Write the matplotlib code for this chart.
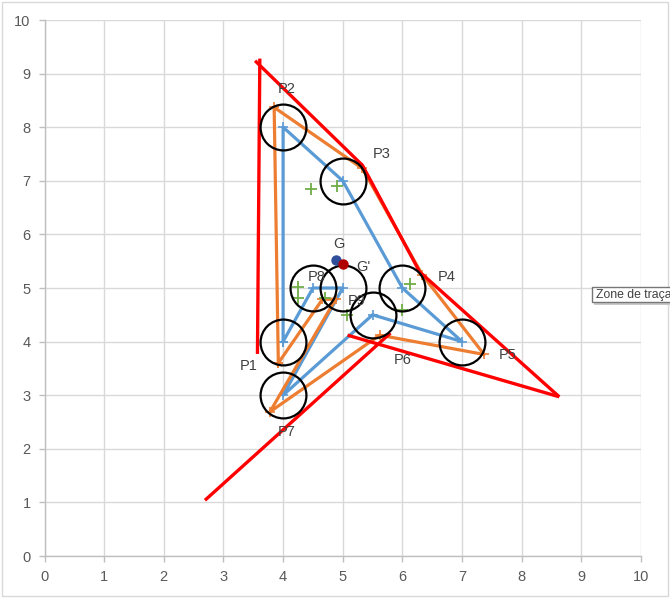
import matplotlib
matplotlib.use("Agg")
import matplotlib.pyplot as plt
from matplotlib.patches import Rectangle

# ---- data ----
p_names = ["P1", "P2", "P3", "P4", "P5", "P6", "P7", "P8", "P9"]
p_x = [4, 4, 5, 6, 7, 5.5, 4, 4.5, 5]
p_y = [4, 8, 7, 5, 4, 4.5, 3, 5, 5]
path_order = [0, 1, 2, 3, 4, 5, 6, 8, 7, 0]

o_x = [3.92, 3.85, 5.33, 6.33, 7.37, 5.62, 3.78, 4.66, 4.88]
o_y = [3.60, 8.37, 7.23, 5.25, 3.76, 4.12, 2.69, 4.79, 4.79]

green_x = [4.47, 4.90, 4.25, 4.25, 4.70, 5.07, 6.13, 6.00]
green_y = [6.85, 6.91, 5.01, 4.81, 4.81, 4.50, 5.07, 4.59]

red_lines = [
    ([3.57, 3.61], [3.77, 9.28]),
    ([3.53, 5.33, 6.29, 8.63], [9.24, 7.29, 5.30, 2.97]),
    ([8.63, 5.08], [2.97, 4.12]),
    ([2.69, 5.80], [1.04, 4.16]),
]

g_x, g_y = [4.88], [5.53]
g2_x, g2_y = [5.00], [5.45]

x_ticks = list(range(0, 11))
y_ticks = list(range(0, 11))

# label offsets (pixels, y up)
p_label_off = [(-34, -24), (4, 38), (39, 27), (44, 11), (46, -13),
               (30, -45), (4, -37), (4, 11), (14, -13)]

# ---- figure ----
fig = plt.figure(figsize=(6.7, 5.99), dpi=100)
ax = fig.add_axes([44.5 / 670, 43 / 599, (641 - 44.5) / 670, (556 - 20) / 599])

blue = "#5B9BD5"
orange = "#ED7D31"
green = "#70AD47"

ax.set_xlim(0, 10)
ax.set_ylim(0, 10)
ax.set_xticks(x_ticks)
ax.set_yticks(y_ticks)
ax.grid(True, color="#D9D9D9", lw=1)
ax.set_axisbelow(True)
for s in ["top", "right"]:
    ax.spines[s].set_visible(False)
for s in ["left", "bottom"]:
    ax.spines[s].set_color("#BFBFBF")
    ax.spines[s].set_linewidth(1)
ax.tick_params(colors="#BFBFBF", labelcolor="#595959", labelsize=10.5,
               length=4, width=1, pad=6)
for lbl in ax.get_xticklabels() + ax.get_yticklabels():
    lbl.set_fontfamily("Liberation Sans")

# blue path
bx = [p_x[i] for i in path_order]
by = [p_y[i] for i in path_order]
ax.plot(bx, by, color=blue, lw=2.3, marker="+", ms=7, mew=1.2, zorder=3)

# orange path
ox = [o_x[i] for i in path_order]
oy = [o_y[i] for i in path_order]
ax.plot(ox, oy, color=orange, lw=2.3, marker="+", ms=7, mew=1.2, zorder=3)

# green pluses
ax.plot(green_x, green_y, ls="none", marker="+", ms=9, mew=1.3, color=green, zorder=4)

# red lines
for rx, ry in red_lines:
    ax.plot(rx, ry, color="#FF0000", lw=2.4, zorder=5, solid_capstyle="butt")

# circles
ax.plot(p_x, p_y, ls="none", marker="o", ms=33, mfc="none", mec="black", mew=1.6, zorder=6)

# G points
ax.plot(g_x, g_y, ls="none", marker="o", ms=6.5, color="#2F4F9A", zorder=7)
ax.plot(g2_x, g2_y, ls="none", marker="o", ms=6.5, color="#B00000", zorder=7)

k = 72 / 100
txt_kw = dict(fontsize=10.5, color="#404040", ha="center", va="center",
              textcoords="offset points", family="Liberation Sans", zorder=8)
for name, x, y, (dx, dy) in zip(p_names, p_x, p_y, p_label_off):
    ax.annotate(name, (x, y), xytext=(dx * k, dy * k), **txt_kw)
ax.annotate("G", (g_x[0], g_y[0]), xytext=(3 * k, 16 * k), **txt_kw)
ax.annotate("G'", (g2_x[0], g2_y[0]), xytext=(21 * k, -3 * k), **txt_kw)

# chart border
fig.patches.append(Rectangle((2 / 670, 3 / 599), 666 / 670, 594 / 599,
                             transform=fig.transFigure, fill=False,
                             edgecolor="#D9D9D9", lw=1))

# tooltip (cut off at the right edge, as in the reference)
fig.patches.append(Rectangle((594 / 670, 1 - 305 / 599), 80 / 670, 15 / 599,
                             transform=fig.transFigure, facecolor="#C8C8C8",
                             edgecolor="none", zorder=9))
fig.patches.append(Rectangle((592 / 670, 1 - 302 / 599), 80 / 670, 15 / 599,
                             transform=fig.transFigure, facecolor="white",
                             edgecolor="#767676", lw=1, zorder=10))
fig.text(596 / 670, 1 - 295 / 599, "Zone de traçage", fontsize=8.8, color="#404040",
         ha="left", va="center", family="Liberation Sans", zorder=11)

fig.savefig("out.png", dpi=100)
